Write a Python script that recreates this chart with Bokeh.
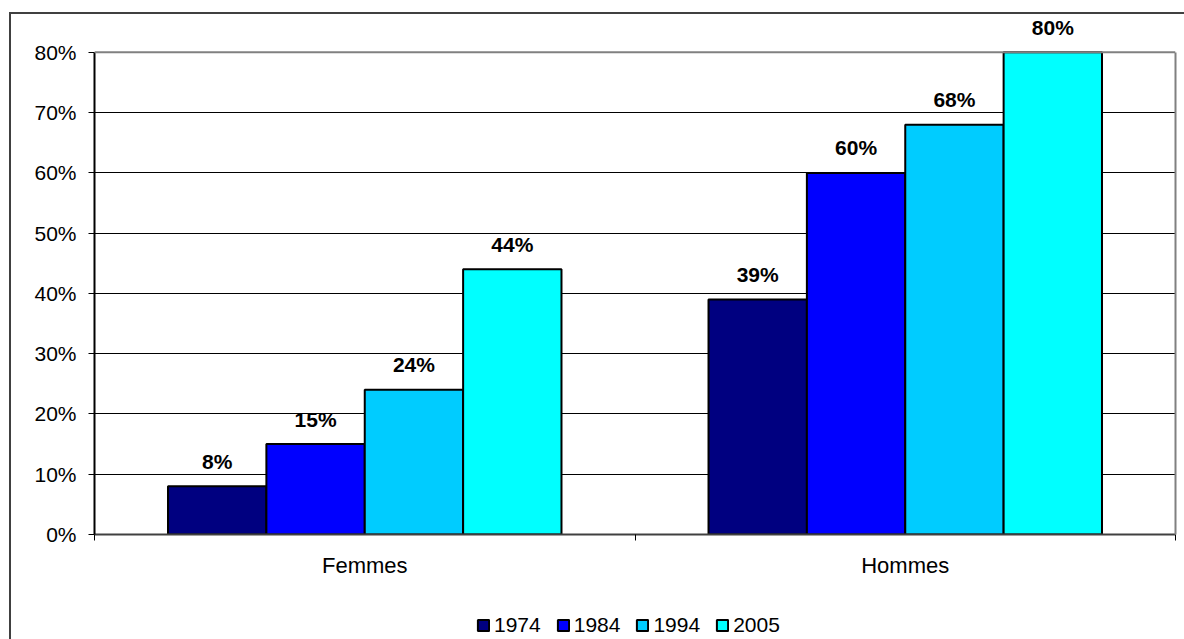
from bokeh.plotting import figure
from bokeh.layouts import column
from bokeh.models import (ColumnDataSource, Range1d, LinearAxis, FixedTicker,
                          NumeralTickFormatter, Legend, LegendItem, Span)
from bokeh.core.properties import value
from bokeh.embed import file_html
from bokeh.resources import INLINE

# Share of each group, by survey year
categories = ["Femmes", "Hommes"]
years = ["1974", "1984", "1994", "2005"]
values_1974 = [0.08, 0.39]
values_1984 = [0.15, 0.60]
values_1994 = [0.24, 0.68]
values_2005 = [0.44, 0.80]
series = [values_1974, values_1984, values_1994, values_2005]
colors = ["#000080", "#0000FF", "#00CCFF", "#00FFFF"]
y_ticks = [0.0, 0.1, 0.2, 0.3, 0.4, 0.5, 0.6, 0.7, 0.8]

FONT = "Liberation Sans"
y_max = y_ticks[-1]
n = len(categories)

# ---- main chart -------------------------------------------------------------
# headroom above the top gridline leaves space for the value labels
p = figure(width=1173, height=566, x_range=Range1d(0, n),
           y_range=Range1d(0, 0.8628), x_axis_location=None, y_axis_location=None,
           output_backend="svg", toolbar_location=None,
           min_border_left=83, min_border_right=9, min_border_top=0, min_border_bottom=44)
p.background_fill_color = "white"
p.border_fill_color = "white"
p.outline_line_color = None

ya = LinearAxis(ticker=FixedTicker(ticks=y_ticks), formatter=NumeralTickFormatter(format="0%"),
                bounds=(0, y_max),
                major_label_text_font=FONT, major_label_text_font_size="21px",
                major_label_text_color="black", major_tick_out=6, major_tick_in=0,
                minor_tick_out=0, minor_tick_in=0, major_label_standoff=12,
                axis_line_color="black", axis_line_width=2, major_tick_line_color="black")
p.add_layout(ya, "left")

# plot-area border on the right and top
right_edge = LinearAxis(ticker=FixedTicker(ticks=[]), bounds=(0, y_max),
                        major_label_text_font_size="0px", major_tick_out=0, major_tick_in=0,
                        minor_tick_out=0, minor_tick_in=0, major_label_standoff=0,
                        axis_line_color="#808080", axis_line_width=2)
p.add_layout(right_edge, "right")
p.add_layout(Span(location=y_max, dimension="width", line_color="#808080", line_width=2))

p.xgrid.visible = False
p.ygrid.ticker = FixedTicker(ticks=y_ticks[1:-1])
p.ygrid.grid_line_color = "black"
p.ygrid.grid_line_width = 1

# ticks on the boundaries between categories
edges = list(range(n + 1))
edge_axis = LinearAxis(ticker=FixedTicker(ticks=edges),
                       major_label_overrides={e: "" for e in edges},
                       major_tick_out=6, major_tick_in=0, minor_tick_out=0, minor_tick_in=0,
                       major_label_standoff=0, axis_line_color="#404040", axis_line_width=2,
                       major_tick_line_color="black")
p.add_layout(edge_axis, "below")

# category names centred in each slot
centers = [i + 0.5 for i in range(n)]
cat_axis = LinearAxis(ticker=FixedTicker(ticks=centers),
                      major_label_overrides={c: name for c, name in zip(centers, categories)},
                      major_tick_out=0, major_tick_in=0, minor_tick_out=0, minor_tick_in=0,
                      axis_line_color=None, major_label_standoff=12,
                      major_label_text_font=FONT, major_label_text_font_size="22px",
                      major_label_text_color="black")
p.add_layout(cat_axis, "below")

# bars, dodged around each category centre
bar_w = 0.182
data = {}
for i, (yr, vals) in enumerate(zip(years, series)):
    off = (i - (len(years) - 1) / 2) * bar_w
    data["x" + yr] = [c + off for c in centers]
    data["v" + yr] = vals
    data["t" + yr] = [f"{round(v * 100)}%" for v in vals]
src = ColumnDataSource(data)

for yr, col in zip(years, colors):
    p.vbar(x="x" + yr, top="v" + yr, width=bar_w, bottom=0,
           source=src, fill_color=col, line_color="black", line_width=2)
    p.text(x="x" + yr, y="v" + yr, text="t" + yr, source=src,
           text_font=value(FONT), text_font_size="21px", text_font_style="bold",
           text_align="center", text_baseline="middle", y_offset=-25, text_color="black")

# ---- legend strip -----------------------------------------------------------
lg = figure(width=1173, height=59, x_range=Range1d(0, 1), y_range=Range1d(0, 1),
            x_axis_location=None, y_axis_location=None,
            output_backend="svg", toolbar_location=None,
            min_border_left=0, min_border_right=0, min_border_top=0, min_border_bottom=0)
lg.outline_line_color = None
lg.grid.visible = False
lg.background_fill_color = "white"
lg.border_fill_color = "white"

# swatch renderers for the legend; their small bar is covered by the opaque legend box
items = []
for yr, col in zip(years, colors):
    r = lg.vbar(x=[0.5], top=[0.3], bottom=[0.1], width=0.05,
                fill_color=col, line_color="black", line_width=2)
    items.append(LegendItem(label=yr, renderers=[r]))

legend = Legend(items=items, orientation="horizontal", location=(382, 2),
                label_text_font=FONT, label_text_font_size="21px", label_text_color="black",
                glyph_width=14, glyph_height=14, label_standoff=4, spacing=15,
                padding=2, margin=0, border_line_color=None,
                background_fill_color="white", background_fill_alpha=1)
lg.add_layout(legend, "center")

layout = column(p, lg, spacing=0)
layout.styles = {"margin-left": "9px", "margin-top": "12px",
                 "border-left": "2px solid #404040", "border-top": "2px solid #404040"}

open("out.html", "w").write(file_html(layout, INLINE))
